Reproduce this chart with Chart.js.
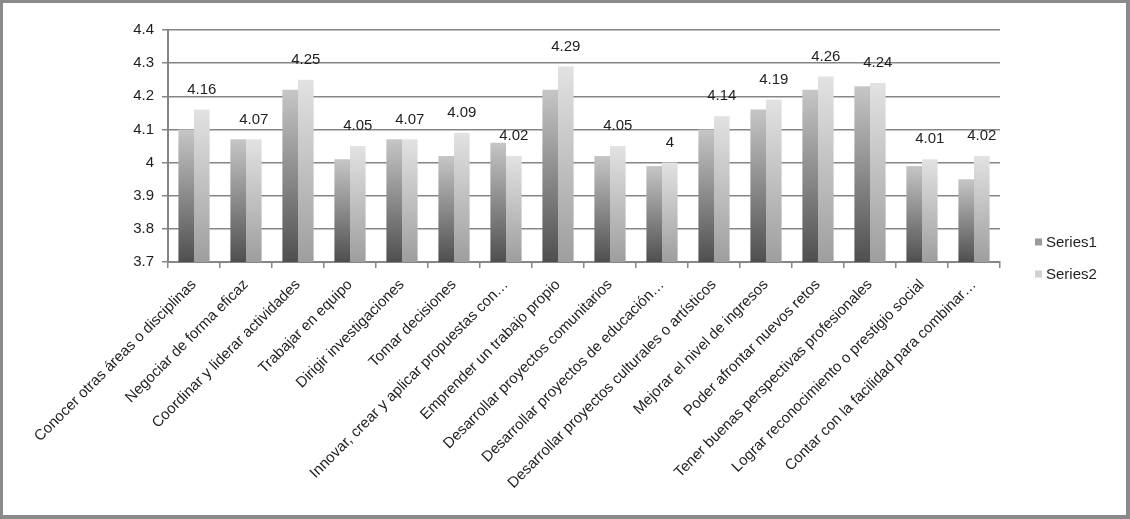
<!DOCTYPE html>
<html>
<head>
<meta charset="utf-8">
<script src="https://cdn.jsdelivr.net/npm/chart.js@4.4.0/dist/chart.umd.min.js"></script>
<style>
    html, body { margin: 0; padding: 0; background: #ffffff; }
    #marco {
        width: 1130px; height: 519px; box-sizing: border-box;
        border-style: solid; border-color: #8a8a8a;
        border-width: 3px 4px 4px 3px;
        background: #ffffff;
    }
    #marco canvas { display: block; }
</style>
</head>
<body>
<div id="marco"><canvas id="chartBar" width="1123" height="512"></canvas></div>
<script>
// categorias (eixo x)
const categorias = [
    'Conocer otras áreas o disciplinas',
    'Negociar de forma eficaz',
    'Coordinar y liderar actividades',
    'Trabajar en equipo',
    'Dirigir investigaciones',
    'Tomar decisiones',
    'Innovar, crear y aplicar propuestas con…',
    'Emprender un trabajo propio',
    'Desarrollar proyectos comunitarios',
    'Desarrollar proyectos de educación…',
    'Desarrollar proyectos culturales o artísticos',
    'Mejorar el nivel de ingresos',
    'Poder afrontar nuevos retos',
    'Tener buenas perspectivas profesionales',
    'Lograr reconocimiento o prestigio social',
    'Contar con la facilidad para combinar…'
];
const nomesSeries = ['Series1', 'Series2'];
const serie1 = [4.10, 4.07, 4.22, 4.01, 4.07, 4.02, 4.06, 4.22, 4.02, 3.99, 4.10, 4.16, 4.22, 4.23, 3.99, 3.95];
const serie2 = [4.16, 4.07, 4.25, 4.05, 4.07, 4.09, 4.02, 4.29, 4.05, 4.00, 4.14, 4.19, 4.26, 4.24, 4.01, 4.02];
const eixoMin = 3.7;
const eixoMax = 4.4;
const passo = 0.1;

const fonte = "'Liberation Sans', Arial, sans-serif";
const corTexto = '#1e1e1e';
const corGrade = '#858585';

// gradiente vertical por barra (escuro embaixo, claro em cima)
function gradienteBarra(escuro, claro, plano) {
    return (ctx) => {
        const chart = ctx.chart;
        const y = chart.scales.y;
        if (!chart.chartArea || !y || ctx.raw === undefined) return plano;
        const topo = y.getPixelForValue(ctx.raw);
        const base = y.getPixelForValue(eixoMin);
        if (!isFinite(topo) || !isFinite(base) || topo === base) return plano;
        const g = chart.ctx.createLinearGradient(0, base, 0, topo);
        g.addColorStop(0, escuro);
        g.addColorStop(1, claro);
        return g;
    };
}

// rotulos de valor so na Series2
const rotulosPlugin = {
    id: 'rotulos',
    afterDatasetsDraw(chart) {
        const meta = chart.getDatasetMeta(1);
        const ctx = chart.ctx;
        ctx.save();
        ctx.font = '15px ' + fonte;
        ctx.fillStyle = corTexto;
        ctx.textAlign = 'center';
        ctx.textBaseline = 'middle';
        meta.data.forEach((bar, i) => {
            ctx.fillText(String(serie2[i]), bar.x, bar.y - 20);
        });
        ctx.restore();
    }
};

// legenda a direita
const legendaPlugin = {
    id: 'legendaDireita',
    afterDraw(chart) {
        const ctx = chart.ctx;
        const area = chart.chartArea;
        const cores = ['#9a9a9a', '#d2d2d2'];
        ctx.save();
        ctx.font = '15px ' + fonte;
        ctx.textBaseline = 'middle';
        nomesSeries.forEach((nome, i) => {
            const x = area.right + 35;
            const y = area.bottom - 20 + i * 32;
            ctx.fillStyle = cores[i];
            ctx.fillRect(x, y - 3.5, 7, 7);
            ctx.fillStyle = corTexto;
            ctx.fillText(nome, x + 11, y + 1);
        });
        ctx.restore();
    }
};

const dados = {
    labels: categorias,
    datasets: [
        {
            label: nomesSeries[0],
            data: serie1,
            backgroundColor: gradienteBarra('#4f4f4f', '#c6c6c6', '#999999')
        },
        {
            label: nomesSeries[1],
            data: serie2,
            backgroundColor: gradienteBarra('#9e9e9e', '#e2e2e2', '#d0d0d0')
        }
    ]
};

const config = {
    type: 'bar',
    data: dados,
    options: {
        responsive: false,
        animation: false,
        datasets: { bar: { categoryPercentage: 0.6, barPercentage: 1.0 } },
        layout: { padding: { top: 27, right: 126, left: 0, bottom: 0 } },
        scales: {
            x: {
                grid: { offset: true, drawOnChartArea: false, drawTicks: true, tickLength: 6, color: corGrade, lineWidth: 1.5 },
                border: { color: corGrade, width: 2 },
                ticks: {
                    autoSkip: false, minRotation: 45, maxRotation: 45,
                    color: corTexto, font: { family: fonte, size: 15 }, padding: 8
                },
                afterFit: (scale) => { scale.height = 253; }
            },
            y: {
                min: eixoMin, max: eixoMax,
                grid: { color: corGrade, lineWidth: 1.5, tickLength: 6 },
                border: { color: corGrade, width: 2 },
                ticks: {
                    stepSize: passo, color: corTexto, padding: 8,
                    font: { family: fonte, size: 15 },
                    callback: (v) => String(Number(v.toFixed(1)))
                },
                afterFit: (scale) => { scale.width = 165; }
            }
        },
        plugins: {
            legend: { display: false },
            tooltip: { enabled: false }
        }
    },
    plugins: [rotulosPlugin, legendaPlugin]
};

new Chart(document.getElementById('chartBar'), config);
</script>
</body>
</html>
